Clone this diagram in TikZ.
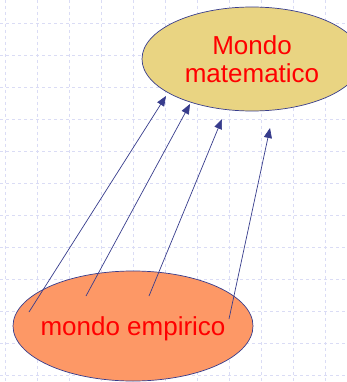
\documentclass[tikz,border=0pt]{standalone}
\usepackage{fontspec}
\setmainfont{Liberation Sans}
\usetikzlibrary{shapes.geometric, arrows.meta, positioning}

\definecolor{gridlav}{RGB}{218,220,245}
\definecolor{lineblue}{RGB}{55,60,140}
\definecolor{mathfill}{RGB}{233,212,130}
\definecolor{empfill}{RGB}{253,152,102}

\tikzset{
  world/.style={ellipse, draw=lineblue, line width=0.7pt, inner sep=0pt},
  worldtext/.style={text=red, font=\fontsize{26}{28}\selectfont, align=center},
  link/.style={draw=lineblue, line width=0.7pt, -{Triangle[length=10pt,width=8pt]}}
}

\begin{document}
\begin{tikzpicture}[x=1pt, y=-1pt]
\useasboundingbox (0,0) rectangle (347,382);
\fill[white] (0,0) rectangle (347,382);
% background grid
\foreach \gx in {5,37,...,347}
  \draw[gridlav, dashed, line width=0.5pt] (\gx,0) -- (\gx,382);
\foreach \gy in {23,55,...,382}
  \draw[gridlav, dashed, line width=0.5pt] (0,\gy) -- (347,\gy);

% the two worlds
\node[world, fill=mathfill, minimum width=220pt, minimum height=104pt,
  label={[worldtext]center:Mondo\\matematico}] (mat) at (252,59) {};
\node[world, fill=empfill, minimum width=240pt, minimum height=110pt,
  label={[worldtext, yshift=-3pt]center:mondo empirico}] (emp) at (133,326) {};

% arrows from the empirical world up to the mathematical one
\foreach \i/\sx/\sy/\tx/\ty in {1/29/312/166/96, 2/86/296/190/104, 3/149/296/222/119, 4/229/319/270/128} {
  \coordinate (from\i) at (\sx,\sy);
  \coordinate (to\i) at (\tx,\ty);
  \draw[link] (from\i) -- (to\i);
}
\end{tikzpicture}
\end{document}
